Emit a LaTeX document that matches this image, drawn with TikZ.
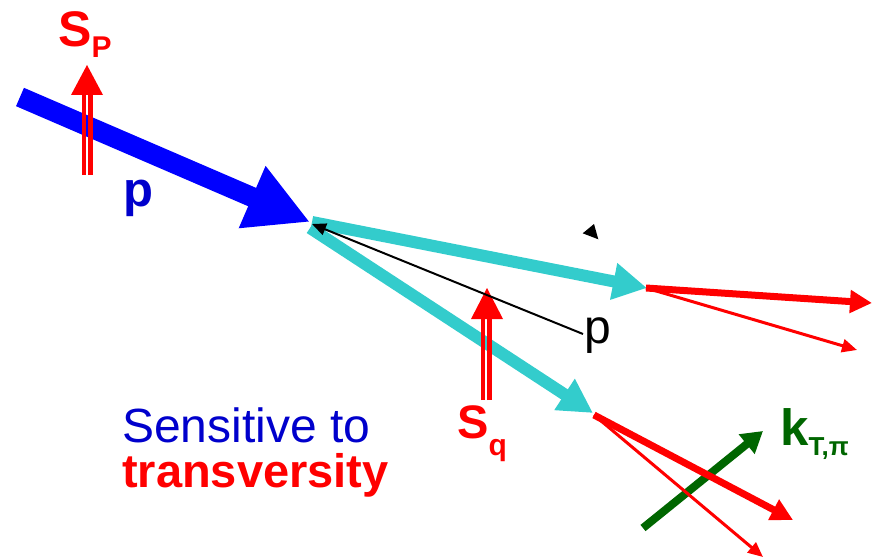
\documentclass[tikz,border=0pt]{standalone}
\usepackage{fontspec}
\setmainfont{Liberation Sans}
\usetikzlibrary{arrows.meta}
\definecolor{beamblue}{RGB}{0,0,255}
\definecolor{textblue}{RGB}{0,0,204}
\definecolor{quarkcyan}{RGB}{51,204,204}
\definecolor{kgreen}{RGB}{0,102,0}
\definecolor{spinred}{RGB}{255,0,0}
\tikzset{
  beam/.style={draw=beamblue, line width=20pt, -{Triangle[length=63pt,width=63pt]}},
  quark/.style={draw=quarkcyan, line width=12pt, -{Triangle[length=34pt,width=35pt]}},
  hadthick/.style={draw=spinred, line width=7pt, -{Triangle[length=22pt,width=22pt]}},
  hadthin/.style={draw=spinred, line width=3pt, -{Triangle[length=15pt,width=13pt]}},
  kvec/.style={draw=kgreen, line width=8pt, -{Triangle[length=21pt,width=24pt]}},
  momline/.style={draw=black, line width=2pt, -{Triangle[length=14pt,width=12pt]}},
  spinline/.style={draw=spinred, line width=4.3pt},
  lbl/.style={inner sep=0pt, anchor=base west},
}
\begin{document}
\begin{tikzpicture}[x=1pt,y=-1pt]
\useasboundingbox (0,0) rectangle (877,559);
% coordinates
\coordinate (btail) at (20,97);
\coordinate (vtx) at (310,222);
\coordinate (q1s) at (312,222);
\coordinate (q1e) at (647,288);
\coordinate (q2s) at (310,228);
\coordinate (q2e) at (593,413);
\coordinate (h1) at (646,288);
\coordinate (h1a) at (872,303);
\coordinate (h1b) at (857,350);
\coordinate (h2) at (594,415);
\coordinate (h2a) at (793,520);
\coordinate (h2b) at (763,557);
\coordinate (ks) at (643,528);
\coordinate (ke) at (763,431);
\coordinate (ps) at (583,334);
\coordinate (pe) at (312,224);
% beam
\draw[beam] (btail) -- (vtx);
% spin of proton
\draw[spinline] (84,175) -- (84,92);
\draw[spinline] (90.5,175) -- (90.5,92);
\fill[spinred] (87,65) -- (103,95) -- (71,95) -- cycle;
% quarks
\draw[quark] (q1s) -- (q1e);
\draw[quark] (q2s) -- (q2e);
% spin of quark
\draw[spinline] (483,400) -- (483,316);
\draw[spinline] (489.5,400) -- (489.5,316);
\fill[spinred] (487,288) -- (503,319) -- (471,319) -- cycle;
% momentum line
\draw[momline] (ps) -- (pe);
% stray tip
\fill[black] (582.7,233.3) -- (594,224) -- (598.3,239.3) -- cycle;
% kT
\draw[kvec] (ks) -- (ke);
% hadrons
\draw[hadthick] (h1) -- (h1a);
\draw[hadthin] (h1) -- (h1b);
\draw[hadthick] (h2) -- (h2a);
\draw[hadthin] (h2) -- (h2b);
% labels
\node[lbl, text=spinred] (lsp) at (58,47) {\fontsize{50}{50}\selectfont\bfseries S\raisebox{-11pt}{\fontsize{30}{30}\selectfont P}};
\node[lbl, text=textblue] (lp) at (123,206) {\fontsize{49}{50}\selectfont\bfseries p};
\node[lbl, text=black] (lpm) at (584,343) {\fontsize{48}{50}\selectfont p};
\node[lbl, text=spinred] (lsq) at (457,438) {\fontsize{47}{50}\selectfont\bfseries S\raisebox{-17pt}{\fontsize{30}{30}\selectfont q}};
\node[lbl, text=kgreen] (lk) at (780,445) {\fontsize{51}{50}\selectfont\bfseries k\raisebox{-10pt}{\fontsize{26}{30}\selectfont T,π}};
\node[lbl, text=textblue] (ls1) at (122,442) {\fontsize{48}{50}\selectfont Sensitive to};
\node[lbl, text=spinred] (ls2) at (122,487) {\fontsize{47}{50}\selectfont\bfseries transversity};
\end{tikzpicture}
\end{document}
